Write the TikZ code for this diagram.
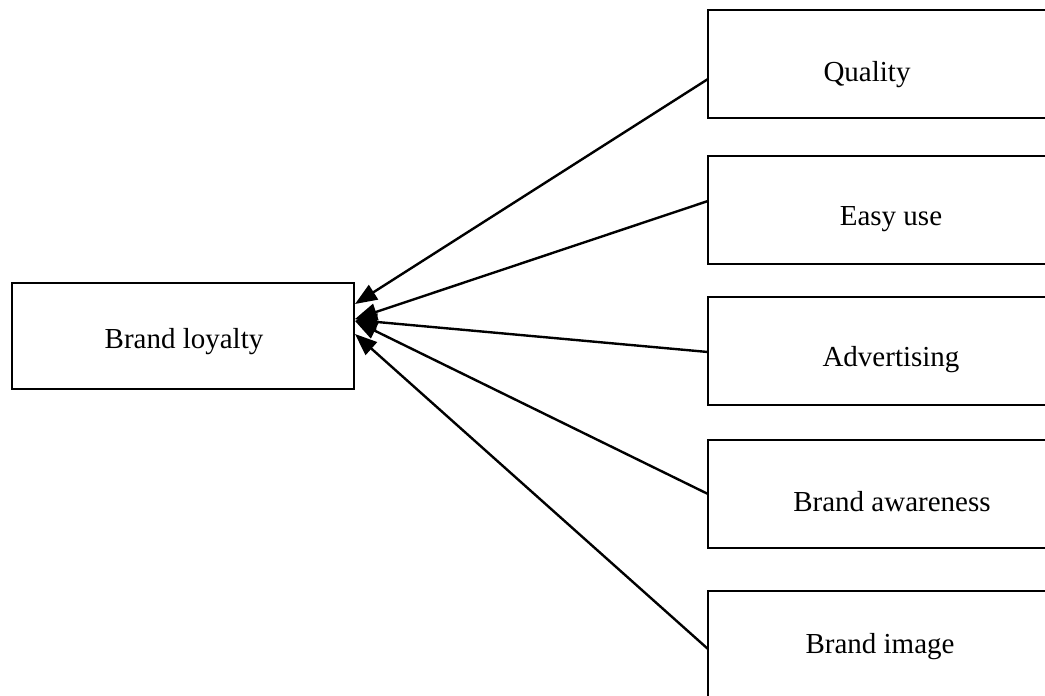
\documentclass[tikz,border=0pt]{standalone}
\usepackage{fontspec}
\setmainfont{Liberation Serif}
\usetikzlibrary{arrows.meta}
\begin{document}
\begin{tikzpicture}[x=1pt,y=-1pt,
  box/.style={draw,line width=2.4pt,rectangle,inner sep=0pt},
  lbl/.style={font=\fontsize{29}{33}\selectfont,inner sep=0pt},
  arr/.style={line width=2.4pt,-{Triangle[length=22pt,width=17pt]}}]
\useasboundingbox (0,0) rectangle (1045,696);
\clip (0,0) rectangle (1045,696);
% left box
\node[box,minimum width=342pt,minimum height=106pt] (bl) at (183,336) {};
\node[lbl] (blt) at (184,342) {Brand loyalty};
% right boxes
\node[box,minimum width=364pt,minimum height=108pt] (q) at (890,64) {};
\node[box,minimum width=364pt,minimum height=108pt] (e) at (890,210) {};
\node[box,minimum width=364pt,minimum height=108pt] (a) at (890,351) {};
\node[box,minimum width=364pt,minimum height=108pt] (w) at (890,494) {};
\node[box,minimum width=364pt,minimum height=108pt] (i) at (890,645) {};
\node[lbl] (qt) at (867,75) {Quality};
\node[lbl] (et) at (891,219) {Easy use};
\node[lbl] (at) at (891,360) {Advertising};
\node[lbl] (wt) at (892,502) {Brand awareness};
\node[lbl] (it) at (880,647) {Brand image};
% connector ends
\coordinate (qs) at (708,79);
\coordinate (es) at (708,201);
\coordinate (as) at (708,352);
\coordinate (ws) at (708,494);
\coordinate (is) at (708,649);
\coordinate (t1) at (355,304);
\coordinate (t2) at (355,319);
\coordinate (t3) at (355,320);
\coordinate (t4) at (355,321);
\coordinate (t5) at (355,334);
\draw[arr] (qs) -- (t1);
\draw[arr] (es) -- (t2);
\draw[arr] (as) -- (t3);
\draw[arr] (ws) -- (t4);
\draw[arr] (is) -- (t5);
\end{tikzpicture}
\end{document}
